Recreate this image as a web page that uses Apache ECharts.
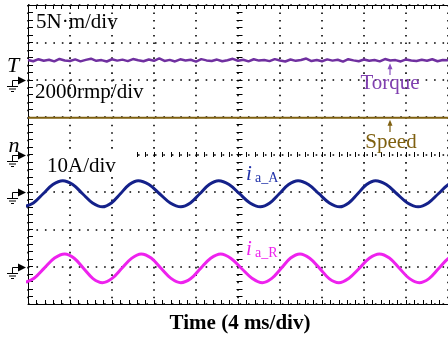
<!DOCTYPE html>
<html>
<head>
<meta charset="utf-8">
<script src="https://cdn.jsdelivr.net/npm/echarts@6/dist/echarts.min.js"></script>
<style>
  html, body { margin: 0; padding: 0; background: #fff; }
  #chart { width: 448px; height: 337px; }
</style>
</head>
<body>
<div id="chart"></div>
<script>
// scope screen: 10 div x 4 ms/div, 8 vertical div
const timeMax = 40
const timePerDiv = 4

// channel scales (units per div) and ground levels (div from screen centre)
const torqueScale = 5      // N·m/div
const speedScale = 2000    // rpm/div
const currentScale = 10    // A/div
const groundT = 2
const groundN = 0
const groundIaA = -1
const groundIaR = -3

// torque, sampled every 0.5 ms (N·m)
const torqueStep = 0.5
const torqueNm = [
  2.64, 2.48, 2.75, 2.55, 2.68, 2.45, 2.78, 2.58, 2.50,
  2.72, 2.46, 2.66, 2.82, 2.53, 2.63, 2.44, 2.74, 2.56,
  2.69, 2.49, 2.77, 2.60, 2.47, 2.71, 2.54, 2.86, 2.51,
  2.66, 2.45, 2.73, 2.57, 2.67, 2.43, 2.76, 2.59, 2.50,
  2.70, 2.47, 2.62, 2.80, 2.54, 2.68, 2.46, 2.74, 2.56,
  2.65, 2.49, 2.76, 2.58, 2.44, 2.71, 2.53, 2.64, 2.84,
  2.50, 2.63, 2.47, 2.73, 2.56, 2.67, 2.43, 2.75, 2.59,
  2.48, 2.70, 2.55, 2.64, 2.46, 2.77, 2.57, 2.63, 2.45,
  2.72, 2.58, 2.51, 2.68, 2.54, 2.74, 2.47, 2.65, 2.60
]

// speed (rpm)
const speedTime = [0, 10, 20, 30, 40]
const speedRpm = [1960, 1960, 1960, 1960, 1960]

// phase current, channel A (A)
const iaATime = [
  -0.43, 0.51, 1.44, 2.37, 3.31, 4.26, 5.20, 6.15,
  7.09, 7.94, 8.80, 9.65, 10.50, 11.52, 12.53, 13.55,
  14.56, 15.46, 16.36, 17.26, 18.16, 19.15, 20.15, 21.14,
  22.13, 23.03, 23.93, 24.82, 25.72, 26.71, 27.71, 28.70,
  29.69, 30.54, 31.40, 32.25, 33.10, 34.12, 35.13, 36.15,
  37.16, 38.12, 39.08, 40.04, 41.00
]
const iaAAmp = [
  -4.0, -2.97, -0.5, 1.97, 3.0, 1.97, -0.5, -2.97,
  -4.0, -2.97, -0.5, 1.97, 3.0, 1.97, -0.5, -2.97,
  -4.0, -2.97, -0.5, 1.97, 3.0, 1.97, -0.5, -2.97,
  -4.0, -2.97, -0.5, 1.97, 3.0, 1.97, -0.5, -2.97,
  -4.0, -2.97, -0.5, 1.97, 3.0, 1.97, -0.5, -2.97,
  -4.0, -2.97, -0.5, 1.97, 3.0
]

// phase current, channel R (A)
const iaRTime = [
  -0.40, 0.58, 1.55, 2.53, 3.50, 4.40, 5.30, 6.19,
  7.09, 8.01, 8.94, 9.86, 10.78, 11.73, 12.67, 13.62,
  14.56, 15.51, 16.46, 17.40, 18.35, 19.34, 20.34, 21.33,
  22.32, 23.22, 24.12, 25.01, 25.91, 26.83, 27.76, 28.68,
  29.60, 30.57, 31.54, 32.50, 33.47, 34.42, 35.37, 36.31,
  37.26, 38.19, 39.13, 40.06, 41.00
]
const iaRAmp = [
  -4.3, -3.10, -0.40, 2.30, 3.4, 2.25, -0.50, -3.20,
  -4.3, -3.15, -0.45, 2.20, 3.4, 2.30, -0.45, -3.15,
  -4.3, -3.20, -0.40, 2.25, 3.4, 2.20, -0.50, -3.10,
  -4.3, -3.15, -0.45, 2.30, 3.4, 2.25, -0.40, -3.20,
  -4.3, -3.10, -0.50, 2.25, 3.4, 2.30, -0.45, -3.15,
  -4.3, -3.20, -0.45, 2.25, 3.4
]

const G = { left: 28, top: 5, width: 423, height: 299 }
const cx = G.left + G.width / 2
const cy = G.top + G.height / 2
const serif = '"Liberation Serif", "Times New Roman", serif'

const chart = echarts.init(document.getElementById('chart'))

const frameTick = (len) => ({
  axisTick: { show: true, inside: true, length: len, lineStyle: { color: '#000', width: 1 } },
  minorTick: { show: true, splitNumber: 5, length: len, lineStyle: { color: '#000', width: 1 } }
})

chart.setOption({
  animation: false,
  backgroundColor: '#fff',
  grid: [
    { ...G },
    { left: G.left, width: G.width, top: cy - 2.5, height: 5 },
    { left: cx - 3, width: 6, top: G.top, height: G.height }
  ],
  xAxis: [
    {
      type: 'value', gridIndex: 0, min: 0, max: timeMax, interval: timePerDiv, position: 'bottom',
      axisLine: { show: true, onZero: false, lineStyle: { color: '#000', width: 1 } },
      ...frameTick(4),
      axisLabel: { show: false },
      splitLine: { show: true, lineStyle: { color: '#000', width: 1.6, type: [1.6, 5.88] } }
    },
    {
      type: 'value', gridIndex: 0, min: 0, max: timeMax, interval: timePerDiv, position: 'top',
      axisLine: { show: true, onZero: false, lineStyle: { color: '#000', width: 1 } },
      ...frameTick(4),
      axisLabel: { show: false },
      splitLine: { show: false }
    },
    {
      type: 'value', gridIndex: 1, min: 0, max: timeMax, interval: timePerDiv, position: 'bottom',
      axisLine: { show: false, onZero: false },
      ...frameTick(5),
      axisLabel: { show: false },
      splitLine: { show: false }
    },
    { type: 'value', gridIndex: 2, min: 0, max: 1, show: false }
  ],
  yAxis: [
    {
      type: 'value', gridIndex: 0, min: -4, max: 4, interval: 1, position: 'left',
      axisLine: { show: true, onZero: false, lineStyle: { color: '#000', width: 1 } },
      ...frameTick(5),
      axisLabel: { show: false },
      splitLine: { show: true, lineStyle: { color: '#000', width: 1.6, type: [1.6, 6.86] } }
    },
    { type: 'value', gridIndex: 1, min: 0, max: 1, show: false },
    {
      type: 'value', gridIndex: 2, min: -4, max: 4, interval: 1, position: 'left',
      axisLine: { show: false, onZero: false },
      ...frameTick(6),
      axisLabel: { show: false },
      splitLine: { show: false }
    }
  ],
  series: [
    {
      name: 'Torque', type: 'line', xAxisIndex: 0, yAxisIndex: 0, showSymbol: false,
      lineStyle: { color: '#7030A0', width: 2.5 },
      data: torqueNm.map((v, i) => [i * torqueStep, groundT + v / torqueScale])
    },
    {
      name: 'Speed', type: 'line', xAxisIndex: 0, yAxisIndex: 0, showSymbol: false,
      lineStyle: { color: '#7F6010', width: 2 },
      data: speedTime.map((t, i) => [t, groundN + speedRpm[i] / speedScale])
    },
    {
      name: 'ia_A', type: 'line', xAxisIndex: 0, yAxisIndex: 0, showSymbol: false, smooth: 0.35,
      lineStyle: { color: '#14218A', width: 3 },
      data: iaATime.map((t, i) => [t, groundIaA + iaAAmp[i] / currentScale])
    },
    {
      name: 'ia_R', type: 'line', xAxisIndex: 0, yAxisIndex: 0, showSymbol: false, smooth: 0.35,
      lineStyle: { color: '#EE22EE', width: 3 },
      data: iaRTime.map((t, i) => [t, groundIaR + iaRAmp[i] / currentScale])
    }
  ]
})

// annotations: ground markers, scale texts, trace labels
const px = (t, d) => chart.convertToPixel({ xAxisIndex: 0, yAxisIndex: 0 }, [t, d])
const blk = { stroke: '#000', lineWidth: 1 }

function groundMarker(d) {
  const y = Math.round(px(0, d)[1]) + 0.5
  return [
    { type: 'polygon', shape: { points: [[18, y - 4], [26, y], [18, y + 4]] }, style: { fill: '#000' } },
    { type: 'line', shape: { x1: 12.5, y1: y, x2: 19, y2: y }, style: blk },
    { type: 'line', shape: { x1: 12.5, y1: y, x2: 12.5, y2: y + 6 }, style: blk },
    { type: 'line', shape: { x1: 7, y1: y + 6, x2: 18, y2: y + 6 }, style: blk },
    { type: 'line', shape: { x1: 9, y1: y + 8.5, x2: 16, y2: y + 8.5 }, style: blk },
    { type: 'line', shape: { x1: 11, y1: y + 11, x2: 14, y2: y + 11 }, style: blk }
  ]
}

function upArrow(x, yTip, yEnd, color) {
  return [
    { type: 'polygon', shape: { points: [[x - 2.5, yTip + 6], [x, yTip], [x + 2.5, yTip + 6]] }, style: { fill: color } },
    { type: 'line', shape: { x1: x, y1: yTip + 5, x2: x, y2: yEnd }, style: { stroke: color, lineWidth: 1.2 } }
  ]
}

function txt(text, x, y, font, fill, align) {
  return { type: 'text', z: 100, style: { text, x, y, font, fill: fill || '#000', align: align || 'left', verticalAlign: 'middle' } }
}

const yTorque = px(0, groundT + 2.6 / torqueScale)[1]
const ySpeed = px(0, groundN + speedRpm[0] / speedScale)[1]

const graphic = [
  ...groundMarker(groundT), ...groundMarker(groundN), ...groundMarker(groundIaA), ...groundMarker(groundIaR),
  { type: 'rect', z: 99, shape: { x: 34, y: cy - 4, width: 100, height: 22 }, style: { fill: '#fff' } },
  txt('5N·m/div', 36, 22, '21px ' + serif),
  txt('2000rmp/div', 35, 92, '21px ' + serif),
  txt('10A/div', 47, 166, '21px ' + serif),
  txt('T', 13, 66, 'italic 22px ' + serif, '#000', 'center'),
  txt('n', 14, 146, 'italic 22px ' + serif, '#000', 'center'),
  txt('Torque', 390, 83, '21px ' + serif, '#8040B0', 'center'),
  ...upArrow(390, yTorque + 3, 75, '#8A4FBF'),
  txt('Speed', 391, 142, '21px ' + serif, '#7F6010', 'center'),
  ...upArrow(390, ySpeed + 2, 132, '#7F6010'),
  txt('i', 249, 174, 'italic 21px ' + serif, '#2233AA', 'center'),
  txt('a_A', 255, 178, '14px ' + serif, '#2233AA'),
  txt('i', 249, 249, 'italic 21px ' + serif, '#EE22EE', 'center'),
  txt('a_R', 255, 253, '14px ' + serif, '#EE22EE'),
  txt('Time (4 ms/div)', 240, 324, 'bold 21px ' + serif, '#000', 'center')
]

chart.setOption({ graphic })
</script>
</body>
</html>
